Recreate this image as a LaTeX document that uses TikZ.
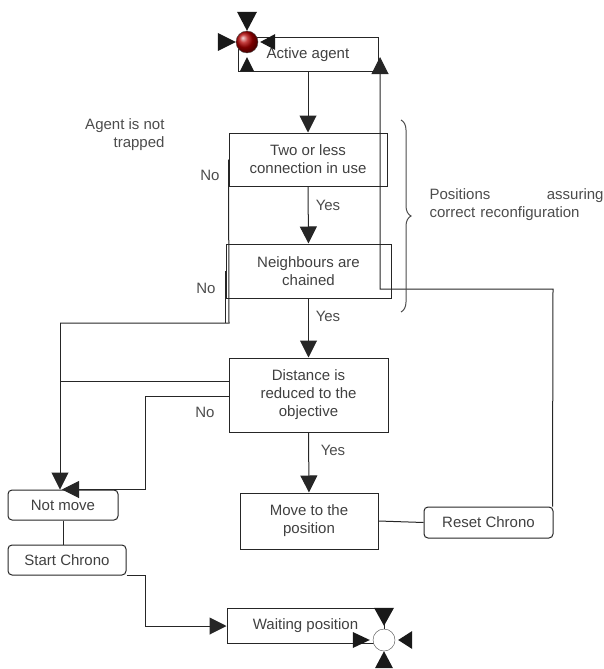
\documentclass[tikz,border=0pt]{standalone}
\usepackage{fontspec}
\setmainfont{Liberation Sans}
\usetikzlibrary{arrows.meta,decorations.pathreplacing}
\tikzset{
  box/.style={draw=black!85, line width=1pt, inner sep=0pt, align=center, text=black!75},
  rbox/.style={box, rounded corners=4pt},
  wire/.style={draw=black!85, line width=1pt},
  flow/.style={wire, -{Triangle[length=17pt,width=17pt]}},
  lbl/.style={text=black!70},
  tip/.style={fill=black!90},
}
\begin{document}
\begin{tikzpicture}[x=1pt, y=-1pt, font=\fontsize{15}{18}\selectfont]
  \useasboundingbox (0,0) rectangle (604,669);

  \node[box, minimum width=140pt, minimum height=34pt] (active) at (308,55) {Active agent};
  \node[box, minimum width=158pt, minimum height=53pt] (two) at (308,159.5) {Two or less\\connection in use};
  \node[box, minimum width=165pt, minimum height=54pt] (neigh) at (308.5,271) {Neighbours are\\chained};
  \node[box, minimum width=159pt, minimum height=74pt] (dist) at (308.5,395) {Distance is\\reduced to the\\objective};
  \node[box, minimum width=138pt, minimum height=56pt] (move) at (309,521) {Move to the\\position};
  \node[rbox, minimum width=129pt, minimum height=31pt] (reset) at (488.5,522.5) {Reset Chrono};
  \node[rbox, minimum width=110pt, minimum height=30pt] (notmove) at (63,505) {Not move};
  \node[rbox, minimum width=118pt, minimum height=30pt] (start) at (67,560) {Start Chrono};
  \node[box, minimum width=157pt, minimum height=35pt] (wait) at (305.5,626) {Waiting position};

  \node[lbl, anchor=east, align=right] (trap) at (168,135) {Agent is not\\trapped};
  \node[lbl] (no1) at (210,175) {No};
  \node[lbl] (no2) at (206,288) {No};
  \node[lbl] (no3) at (205,412) {No};
  \node[lbl] (yes1) at (328,205) {Yes};
  \node[lbl] (yes2) at (328,316) {Yes};
  \node[lbl] (yes3) at (333,450) {Yes};

  % main line
  \draw[flow] (active.south) -- (two.north);
  \draw[flow] (two.south) -- (neigh.north);
  \draw[flow] (neigh.south) -- (dist.north);
  \draw[flow] (dist.south) -- (move.north);
  \draw[wire] (move.east) -- (reset.west);

  % back to the agent
  \coordinate (lr) at (553,289);
  \coordinate (ll) at (380,289);
  \coordinate (ltip) at (380,57);
  \draw[flow] ([xshift=-1pt]reset.north east) -- (lr) -- (ll) -- (ltip);

  % the No branches
  \coordinate (jn) at (229,323);
  \coordinate (jl) at (60,323);
  \draw[wire] (two.west) -- (jn) -- (jl);
  \draw[flow] (jl) -- (jl |- notmove.north);
  \draw[wire] (neigh.west) -- (neigh.west |- jn);
  \coordinate (da) at ([yshift=14pt]dist.west);
  \draw[wire] (da) -- (da -| jl);
  \coordinate (bend) at (145,396);
  \draw[flow] (dist.west |- bend) -- (bend) -- (bend |- notmove.north) -- ([xshift=-1pt]notmove.north);

  \draw[wire] (notmove.south) -- (notmove.south |- start.north);
  \coordinate (sw) at (145,626);
  \draw[flow] (start.south east) -- (start.south east -| sw) -- (sw) -- (wait.west);

  % bracket
  \coordinate (btop) at (401,120);
  \coordinate (bbot) at (401,312);
  \draw[wire, draw=black!70, decorate, decoration={brace, amplitude=10pt}] (btop) -- (bbot);
  \node[lbl, anchor=west, text width=174pt, align=left] (note) at (426,205) {Positions\hfill assuring\\correct reconfiguration};

  % initial and final states
  \node[circle, minimum size=22pt, inner sep=0pt, draw=black!70, ball color=red!70!black] (init) at (247,42) {};
  \fill[tip] (init.north) -- ++(-10,-19) -- ++(20,0) -- cycle;
  \fill[tip] (init.west) -- ++(-18,-9) -- ++(0,18) -- cycle;
  \fill[tip] ([xshift=2pt]init.east) -- ++(15,-8) -- ++(0,16) -- cycle;
  \fill[tip] ([yshift=-4pt]init.south) -- ++(-7,14) -- ++(14,0) -- cycle;

  \node[circle, minimum size=22pt, inner sep=0pt, draw=black!70, fill=white] (fin) at (384,640) {};
  \fill[tip] ([yshift=3pt]fin.north) -- ++(-10,-18) -- ++(20,0) -- cycle;
  \fill[tip] ([xshift=-3pt]fin.west) -- ++(-17,-8) -- ++(0,16) -- cycle;
  \fill[tip] ([xshift=3pt]fin.east) -- ++(14,-9) -- ++(0,18) -- cycle;
  \fill[tip] (fin.south) -- ++(-9,17) -- ++(18,0) -- cycle;
\end{tikzpicture}
\end{document}
